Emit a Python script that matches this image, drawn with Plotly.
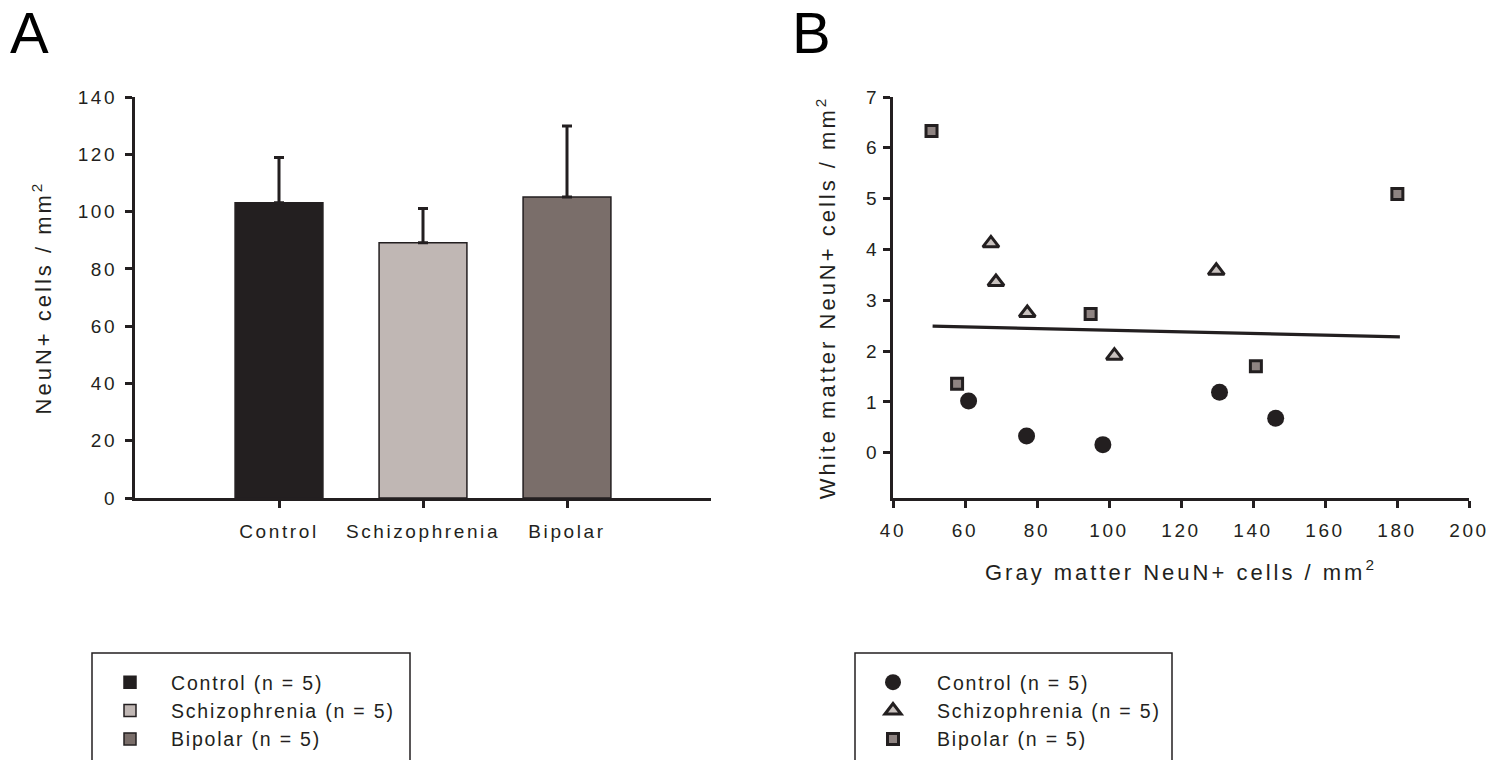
import plotly.graph_objects as go

# ---------------- data ----------------
groups = ["Control", "Schizophrenia", "Bipolar"]
legend_labels = ["Control (n = 5)", "Schizophrenia (n = 5)", "Bipolar (n = 5)"]
bar_means = [103.1, 89.1, 105.1]
bar_sem = [15.8, 12.0, 24.8]

control_gray = [61.0, 77.1, 98.3, 130.7, 146.3]
control_white = [1.02, 0.33, 0.16, 1.19, 0.68]
schizo_gray = [67.2, 68.6, 77.3, 101.5, 129.8]
schizo_white = [4.12, 3.36, 2.75, 1.91, 3.58]
bipolar_gray = [50.7, 57.8, 94.9, 140.8, 180.1]
bipolar_white = [6.33, 1.36, 2.73, 1.70, 5.09]

trend_gray = [51.0, 180.8]
trend_white = [2.49, 2.28]

y_ticks_a = [0, 20, 40, 60, 80, 100, 120, 140]
x_ticks_b = [40, 60, 80, 100, 120, 140, 160, 180, 200]
y_ticks_b = [0, 1, 2, 3, 4, 5, 6, 7]

# ---------------- style ----------------
W, H = 1490, 760
INK = "#231f20"
FONT = "Liberation Sans, Arial, sans-serif"
bar_colors = [INK, "#c0b7b4", "#7a6e6a"]


def px_x(p):
    return p / W


def px_y(p):
    return 1 - p / H


fig = go.Figure()

for g, lab, m, e, c in zip(groups, legend_labels, bar_means, bar_sem, bar_colors):
    fig.add_trace(go.Bar(
        x=[g], y=[m], name=lab, width=0.61,
        marker=dict(color=c, line=dict(color=INK, width=1.5)),
        error_y=dict(type="data", array=[e], arrayminus=[0], symmetric=False,
                     color=INK, thickness=3, width=5),
        xaxis="x", yaxis="y", legend="legend",
    ))

fig.add_trace(go.Scatter(
    x=trend_gray, y=trend_white, mode="lines", showlegend=False,
    line=dict(color=INK, width=3.2), xaxis="x2", yaxis="y2",
))
fig.add_trace(go.Scatter(
    x=control_gray, y=control_white, mode="markers", name=legend_labels[0],
    marker=dict(symbol="circle", size=17, color=INK, line=dict(width=0)),
    xaxis="x2", yaxis="y2", legend="legend2",
))
fig.add_trace(go.Scatter(
    x=schizo_gray, y=schizo_white, mode="markers", name=legend_labels[1],
    marker=dict(symbol="triangle-up", size=14, color="#c8c1be",
                line=dict(color=INK, width=3)),
    xaxis="x2", yaxis="y2", legend="legend2",
))
fig.add_trace(go.Scatter(
    x=bipolar_gray, y=bipolar_white, mode="markers", name=legend_labels[2],
    marker=dict(symbol="square", size=11, color="#8f8482",
                line=dict(color=INK, width=3)),
    xaxis="x2", yaxis="y2", legend="legend2",
))

tickfont = dict(family=FONT, size=19, color=INK)
titlefont = dict(family=FONT, size=22, color=INK)
legendfont = dict(family=FONT, size=19.5, color=INK)
axis_common = dict(showline=True, linewidth=3, linecolor=INK, ticks="outside",
                   ticklen=7, tickwidth=3, tickcolor=INK, showgrid=False,
                   zeroline=False, tickfont=tickfont, automargin=False)

fig.update_layout(
    template="none",
    width=W, height=H, autosize=False,
    margin=dict(l=0, r=0, t=0, b=0),
    paper_bgcolor="white", plot_bgcolor="white",
    barmode="overlay",
    font=dict(family=FONT, color=INK),
    xaxis=dict(domain=[px_x(135), px_x(711)], range=[-1, 3], type="category",
               anchor="y", ticklabelstandoff=7, **axis_common),
    yaxis=dict(domain=[px_y(498), px_y(97)], range=[0, 140], tickmode="array",
               tickvals=y_ticks_a, anchor="x", ticklabelstandoff=4,
               title=dict(text="NeuN+ cells / mm<sup>2</sup>", font=titlefont, standoff=28),
               **axis_common),
    xaxis2=dict(domain=[px_x(893), px_x(1469)], range=[40, 200], tickmode="array",
                tickvals=x_ticks_b, anchor="y2", ticklabelstandoff=6,
                title=dict(text="Gray matter NeuN+ cells / mm<sup>2</sup>", font=titlefont, standoff=25),
                **axis_common),
    yaxis2=dict(domain=[px_y(498), px_y(97)], range=[-0.89, 7], tickmode="array",
                tickvals=y_ticks_b, anchor="x2",
                title=dict(text="White matter NeuN+ cells / mm<sup>2</sup>", font=titlefont, standoff=27),
                **axis_common),
    legend=dict(x=px_x(89), y=px_y(663), xanchor="left", yanchor="top",
                bgcolor="rgba(0,0,0,0)", borderwidth=0, itemwidth=72,
                font=legendfont, tracegroupgap=0),
    legend2=dict(x=px_x(849), y=px_y(663), xanchor="left", yanchor="top",
                 bgcolor="rgba(0,0,0,0)", borderwidth=0, itemwidth=78,
                 font=legendfont, tracegroupgap=0),
    shapes=[
        dict(type="rect", xref="paper", yref="paper", x0=px_x(92), x1=px_x(410),
             y0=px_y(780), y1=px_y(653), line=dict(color=INK, width=1.5), layer="below"),
        dict(type="rect", xref="paper", yref="paper", x0=px_x(855), x1=px_x(1172),
             y0=px_y(780), y1=px_y(653), line=dict(color=INK, width=1.5), layer="below"),
    ],
    annotations=[
        dict(text="A", x=px_x(30), y=px_y(32), xref="paper", yref="paper",
             showarrow=False, xanchor="center", yanchor="middle",
             font=dict(family=FONT, size=58, color="black")),
        dict(text="B", x=px_x(811), y=px_y(32), xref="paper", yref="paper",
             showarrow=False, xanchor="center", yanchor="middle",
             font=dict(family=FONT, size=58, color="black")),
    ],
)

post = """
document.body.style.margin = '0';
var css = document.createElement('style');
css.textContent = [
  'svg text { letter-spacing: 2.6px; }',
  'svg text.legendtext, svg g[class^="legend"] text { letter-spacing: 1.8px; }',
  'svg text.xtitle, svg text.ytitle, svg text.x2title, svg text.y2title { letter-spacing: 3px; }',
  'svg text.annotation-text { letter-spacing: 0px; }',
  'g.scrollbox { clip-path: none !important; }'
].join('\\n');
document.head.appendChild(css);
"""

fig.write_html("out.html", config={"displayModeBar": False}, post_script=post)
